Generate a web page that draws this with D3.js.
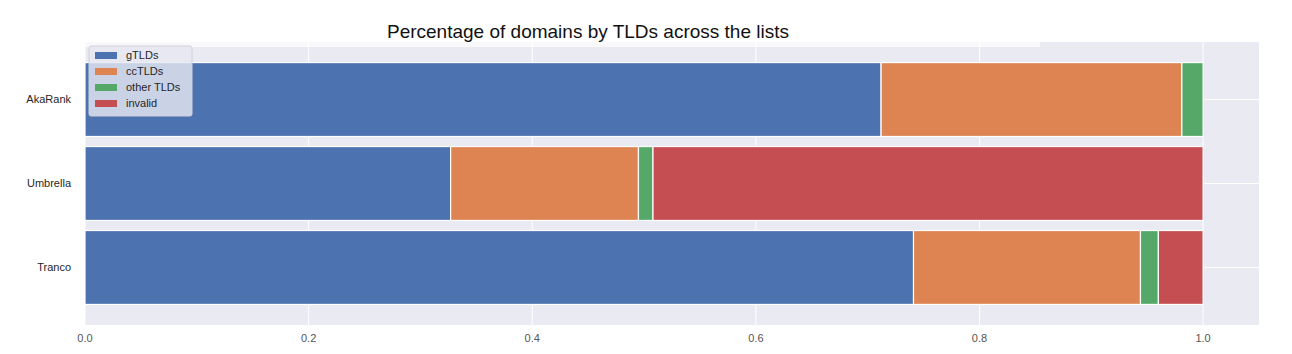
<!DOCTYPE html>
<html>
<head>
<meta charset="utf-8">
<script src="https://cdn.jsdelivr.net/npm/d3@7"></script>
<style>
  body { margin: 0; background: #fff; }
  text { font-family: "Liberation Sans", Arial, sans-serif; }
</style>
</head>
<body>
<div id="chart"></div>
<script>
const lists = ["AkaRank", "Umbrella", "Tranco"];
const seriesNames = ["gTLDs", "ccTLDs", "other TLDs", "invalid"];
const gTLDs = [0.712, 0.327, 0.741];
const ccTLDs = [0.269, 0.168, 0.203];
const otherTLDs = [0.019, 0.013, 0.016];
const invalid = [0.000, 0.492, 0.040];
const xTicks = [0.0, 0.2, 0.4, 0.6, 0.8, 1.0];

const colors = ["#4c72b0", "#dd8452", "#55a868", "#c44e52"];
const width = 1292, height = 354;
const margin = { left: 85, right: 35, top: 42, bottom: 29 };

const svg = d3.select("#chart").append("svg")
    .attr("width", width)
    .attr("height", height);

const x = d3.scaleLinear()
    .domain([0, 1.05])
    .range([margin.left, width - margin.right + 2]);

const y = d3.scaleLinear()
    .domain([-0.685, 2.685])
    .range([margin.top, height - margin.bottom]);

const barH = 0.88;

// plot background
svg.append("rect")
    .attr("x", x(0))
    .attr("y", margin.top)
    .attr("width", x(1.05) - x(0))
    .attr("height", height - margin.bottom - margin.top)
    .attr("fill", "#eaeaf2");

// gridlines
svg.append("g")
    .selectAll("line.vx")
    .data(xTicks)
    .enter().append("line")
    .attr("x1", d => x(d)).attr("x2", d => x(d))
    .attr("y1", margin.top).attr("y2", height - margin.bottom)
    .attr("stroke", "#fff").attr("stroke-width", 1);

svg.append("g")
    .selectAll("line.hy")
    .data(lists)
    .enter().append("line")
    .attr("x1", x(0)).attr("x2", x(1.05))
    .attr("y1", (d, i) => y(i)).attr("y2", (d, i) => y(i))
    .attr("stroke", "#fff").attr("stroke-width", 1);

// stacked bars
const rows = lists.map((name, i) => ({
    name, i, values: [gTLDs[i], ccTLDs[i], otherTLDs[i], invalid[i]]
}));

const segs = [];
rows.forEach(r => {
    let acc = 0;
    r.values.forEach((v, k) => {
        segs.push({ row: r.i, k, x0: acc, x1: acc + v });
        acc += v;
    });
});

svg.append("g")
    .selectAll("rect")
    .data(segs.filter(s => s.x1 - s.x0 > 0))
    .enter().append("rect")
    .attr("x", d => x(d.x0))
    .attr("y", d => y(d.row - barH / 2))
    .attr("width", d => x(d.x1) - x(d.x0))
    .attr("height", d => y(barH) - y(0))
    .attr("fill", d => colors[d.k])
    .attr("stroke", "#fff")
    .attr("stroke-width", 1.2);

// white band under the title
svg.append("rect")
    .attr("x", x(0)).attr("y", margin.top)
    .attr("width", 1040 - x(0)).attr("height", 5)
    .attr("fill", "#fff").attr("opacity", 0.7);

// x axis labels
svg.append("g")
    .selectAll("text")
    .data(xTicks)
    .enter().append("text")
    .attr("x", d => x(d))
    .attr("y", height - margin.bottom + 17)
    .attr("text-anchor", "middle")
    .attr("font-size", 11)
    .attr("fill", "#555")
    .text(d => d3.format(".1f")(d));

// y labels
svg.append("g")
    .selectAll("text")
    .data(lists)
    .enter().append("text")
    .attr("x", 71)
    .attr("y", (d, i) => y(i))
    .attr("dy", "0.35em")
    .attr("text-anchor", "end")
    .attr("font-size", 11)
    .attr("fill", "#262626")
    .text(d => d);

// title
svg.append("text")
    .attr("x", 588)
    .attr("y", 38)
    .attr("text-anchor", "middle")
    .attr("font-size", 19)
    .attr("fill", "#111")
    .text("Percentage of domains by TLDs across the lists");

// legend
const legend = svg.append("g").attr("transform", "translate(89,46)");
legend.append("rect")
    .attr("width", 103).attr("height", 70)
    .attr("rx", 2)
    .attr("fill", "#e6e8f2").attr("fill-opacity", 0.82)
    .attr("stroke", "#cfd0d8");

const item = legend.selectAll("g.item")
    .data(seriesNames)
    .enter().append("g")
    .attr("transform", (d, i) => `translate(6,${9.5 + i * 16})`);

item.append("rect")
    .attr("width", 22).attr("height", 7)
    .attr("y", -3.5)
    .attr("fill", (d, i) => colors[i]);

item.append("text")
    .attr("x", 31)
    .attr("dy", "0.35em")
    .attr("font-size", 11)
    .attr("fill", "#262626")
    .text(d => d);
</script>
</body>
</html>
